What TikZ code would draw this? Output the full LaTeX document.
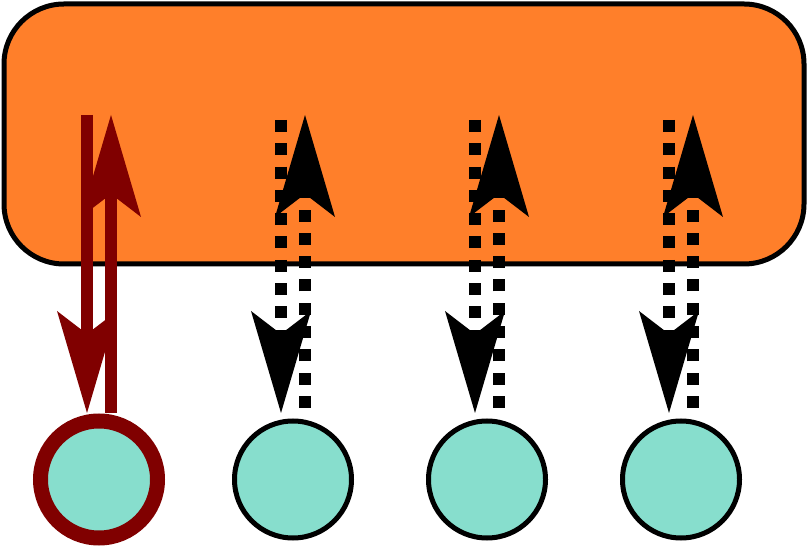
\documentclass[tikz,border=0pt]{standalone}
\usetikzlibrary{arrows.meta,calc,positioning}
\definecolor{hostorange}{HTML}{FF7F2A}
\definecolor{peerteal}{HTML}{87DECD}
\definecolor{linkred}{HTML}{800000}
\tikzset{
    host/.style={draw,line width=5pt,fill=hostorange,rounded corners=60pt,
        minimum width=800pt,minimum height=260pt},
    peer/.style={draw,circle,fill=peerteal,line width=5pt,minimum size=117pt,inner sep=0pt},
    bigtip/.style={-{Stealth[length=102pt,width=60pt,inset=23pt,line width=0pt]}},
    solidlink/.style={bigtip,draw=linkred,line width=12pt},
    dotlink/.style={bigtip,line width=12pt,dash pattern=on 12pt off 11.3pt,dash phase=18.3pt}
}
\begin{document}
\begin{tikzpicture}[x=1pt,y=1pt]
    \useasboundingbox (0,0) rectangle (808,546);
    \node[host] (hub) at (404,412) {};
    \path
        (99,66.5)   node[peer,draw=linkred,line width=15pt] (p1) {}
     ++ (194,0)     node[peer] (p2) {}
     ++ (194,0)     node[peer] (p3) {}
     ++ (194,0)     node[peer] (p4) {}
     ;
    \foreach \i in {1,...,4} {
        \coordinate (dtop\i) at ($(p\i)+(-12,364.5)$);
        \coordinate (dbot\i) at ($(p\i)+(-12,66.5)$);
        \coordinate (utop\i) at ($(p\i)+(12,364.5)$);
        \coordinate (ubot\i) at ($(p\i)+(12,66.5)$);
    }
    \draw [solidlink] (dtop1)--(dbot1);
    \draw [solidlink] (ubot1)--(utop1);
    \foreach \i in {2,3,4} {
        \draw [dotlink] (dtop\i)--(dbot\i);
        \draw [dotlink] (ubot\i)--(utop\i);
    }
\end{tikzpicture}
\end{document}
